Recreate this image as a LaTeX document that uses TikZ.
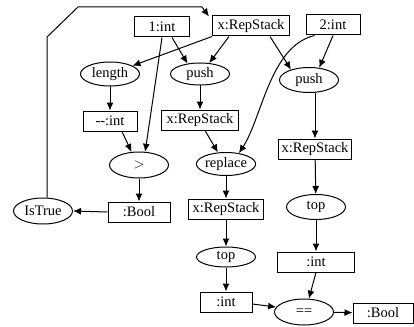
\documentclass[tikz,border=0pt]{standalone}
\usepackage{fontspec}
\setmainfont{Liberation Serif}
\usetikzlibrary{shapes.geometric,arrows.meta}
\newcommand{\lbl}{\fontsize{14.5}{16}\selectfont}

\begin{document}
\begin{tikzpicture}[x=1pt,y=-1pt,
   box/.style={draw,line width=1pt,rectangle,minimum height=20pt,inner sep=1pt,font=\lbl},
   op/.style={draw,line width=1pt,ellipse,minimum width=59pt,minimum height=24pt,inner sep=0pt,font=\lbl},
   link/.style={line width=1pt,-{Latex[length=8pt,width=7pt]}}]
   \useasboundingbox (0,0) rectangle (414,326);
   \node[box,minimum width=55pt] (one)    at (162,27)  {1:int};
   \node[box,minimum width=77pt] (xtop)   at (251,26)  {x:RepStack};
   \node[box,minimum width=54pt] (two)    at (333,25)  {2:int};
   \node[op]                     (length) at (110,74)  {length};
   \node[op,minimum height=22pt] (pushl)  at (200,74)  {push};
   \node[op,minimum height=25pt] (pushr)  at (309,80)  {push};
   \node[box,minimum width=54pt] (dec)    at (110,121) {{-}{-}:int};
   \node[box,minimum width=77pt] (xmid)   at (200,120) {x:RepStack};
   \node[op,minimum height=26pt] (gt)     at (139,165) {$>$};
   \node[op,minimum height=23pt] (repl)   at (226,164) {replace};
   \node[box,minimum width=73pt] (xright) at (315,149) {x:RepStack};
   \node[box,minimum width=62pt] (boolL)  at (139,212) {:Bool};
   \node[op,minimum height=26pt] (istrue) at (43,211)  {IsTrue};
   \node[box,minimum width=75pt] (xlow)   at (226,209) {x:RepStack};
   \node[op,minimum height=20pt] (topm)   at (226,257) {top};
   \node[op,minimum height=25pt] (topr)   at (316,207) {top};
   \node[box,minimum width=77pt] (intr)   at (316,262) {:int};
   \node[box,minimum width=52pt] (intm)   at (226,302) {:int};
   \node[op,minimum height=26pt] (eq)     at (304,312) {==};
   \node[box,minimum width=60pt] (boolR)  at (383,313) {:Bool};
   \coordinate (up)    at (47,37);
   \coordinate (slant) at (78,7);
   \coordinate (over)  at (202,7);
   \draw[link] ([xshift=4pt]istrue.north) -- (up) -- (slant) -- (over) -- ([xshift=-3pt,yshift=-1pt]xtop.north west);
   \draw[link] (xtop.south west) -- (length);
   \draw[link] ([xshift=17pt]xtop.south west) -- (pushl.50);
   \draw[link] ([xshift=-20pt]xtop.south east) -- (pushr.150);
   \draw[link] (two.south) -- (pushr.50);
   \draw[link] ([xshift=9pt]two.south west) .. controls (270,46) and (262,118) .. (repl.40);
   \draw[link] ([xshift=10pt]one.south) -- (pushl.140);
   \draw[link] (one.south) -- (gt.65);
   \draw[link] (length) -- (dec);
   \draw[link] ([xshift=12pt]dec.south) -- (gt.120);
   \draw[link] (pushl) -- (xmid);
   \draw[link] ([xshift=5pt]xmid.south) -- (repl.125);
   \draw[link] (gt) -- (boolL);
   \draw[link] (boolL.west) -- (istrue.east);
   \draw[link] (repl) -- (xlow);
   \draw[link] (xlow) -- (topm);
   \draw[link] (topm) -- (intm);
   \draw[link] ([yshift=-2pt]intm.east) -- (eq.170);
   \draw[link] (xright.north |- pushr.south) -- (xright.north);
   \draw[link] (xright) -- (topr);
   \draw[link] (topr) -- (intr);
   \draw[link] (intr.south) -- (eq.70);
   \draw[link] (eq) -- (boolR);
\end{tikzpicture}
\end{document}
